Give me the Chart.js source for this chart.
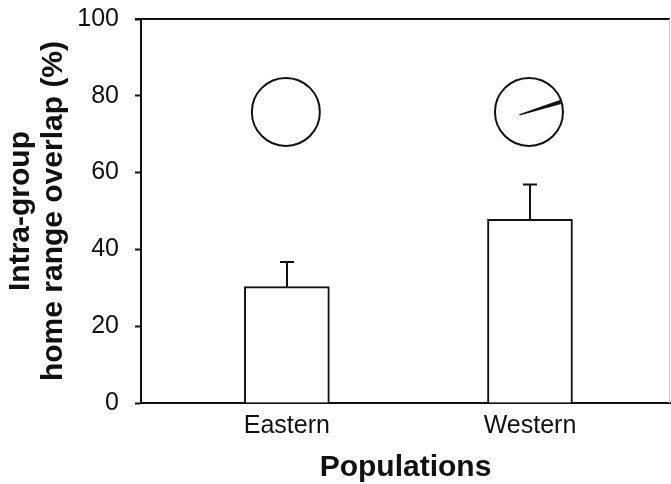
<!DOCTYPE html>
<html lang="en">
<head>
    <meta charset="UTF-8">
    <title>Home range overlap</title>
    <script src="https://cdn.jsdelivr.net/npm/chart.js@4.4.1/dist/chart.umd.min.js"></script>
    <style>
        html, body { margin: 0; padding: 0; background: #fff; }
        #wrap { width: 671px; height: 484px; }
    </style>
</head>
<body>
    <div id="wrap"><canvas id="myChart"></canvas></div>
    <script>
        // data
        var populations = ['Eastern', 'Western'];
        var overlap = [30.3, 47.8];       // mean intra-group overlap (%)
        var overlapErr = [6.4, 9.1];      // upper error bar
        var circleLevel = [75.8, 75.8];   // where the circular plots sit on the y scale
        var meanAngle = [null, 72.5];     // mean direction (deg from north), none for Eastern
        var yTicks = [0, 20, 40, 60, 80, 100];

        var ink = '#111';
        var font = "'Liberation Sans', Arial, sans-serif";

        var barData = populations.map(function(p, i) {
            return { x: i + 1, y: overlap[i] };
        });

        // frame, error bars and the little circular plots
        var extras = {
            id: 'extras',
            afterDatasetsDraw: function(chart) {
                var ctx = chart.ctx;
                var xs = chart.scales.x, ys = chart.scales.y;
                var area = chart.chartArea;
                ctx.save();

                // top and right of the frame
                ctx.strokeStyle = ink;
                ctx.lineWidth = 2;
                ctx.beginPath();
                ctx.moveTo(area.left - 6, area.top);
                ctx.lineTo(area.right, area.top);
                ctx.stroke();
                ctx.strokeStyle = '#ccc';
                ctx.lineWidth = 1;
                ctx.beginPath();
                ctx.moveTo(area.right - 0.5, area.top);
                ctx.lineTo(area.right - 0.5, area.bottom);
                ctx.stroke();

                // error bars
                ctx.strokeStyle = ink;
                ctx.lineWidth = 2;
                overlap.forEach(function(v, i) {
                    var x = Math.round(xs.getPixelForValue(i + 1));
                    var y0 = ys.getPixelForValue(v);
                    var y1 = ys.getPixelForValue(v + overlapErr[i]);
                    ctx.beginPath();
                    ctx.moveTo(x, y0);
                    ctx.lineTo(x, y1);
                    ctx.moveTo(x - 7, y1);
                    ctx.lineTo(x + 7, y1);
                    ctx.stroke();
                });

                // circles with mean vector
                var r = 34;
                populations.forEach(function(p, i) {
                    var cx = xs.getPixelForValue(i + 1) - 1;
                    var cy = ys.getPixelForValue(circleLevel[i]);
                    ctx.strokeStyle = ink;
                    ctx.lineWidth = 2;
                    ctx.beginPath();
                    ctx.arc(cx, cy, r, 0, Math.PI * 2);
                    ctx.stroke();

                    var a = meanAngle[i];
                    if (a === null) return;
                    var rad = (a - 90) * Math.PI / 180;
                    var sx = cx - 10 * Math.cos(rad), sy = cy - 10 * Math.sin(rad);
                    var tx = cx + (r - 1) * Math.cos(rad), ty = cy + (r - 1) * Math.sin(rad);
                    var nx = -Math.sin(rad), ny = Math.cos(rad);
                    ctx.fillStyle = ink;
                    ctx.beginPath();
                    ctx.moveTo(sx + nx * 0.6, sy + ny * 0.6);
                    ctx.lineTo(tx + nx * 2, ty + ny * 2);
                    ctx.lineTo(tx - nx * 2, ty - ny * 2);
                    ctx.lineTo(sx - nx * 0.6, sy - ny * 0.6);
                    ctx.closePath();
                    ctx.fill();
                });
                ctx.restore();
            }
        };

        var ctx = document.getElementById('myChart').getContext('2d');
        var chart = new Chart(ctx, {
            type: 'bar',
            data: {
                datasets: [{
                    label: 'Overlap',
                    data: barData,
                    backgroundColor: '#fff',
                    borderColor: ink,
                    borderWidth: 2,
                    barThickness: 85
                }]
            },
            options: {
                responsive: true,
                maintainAspectRatio: false,
                animation: false,
                events: [],
                layout: { padding: { top: 19, right: 1, left: 0, bottom: 0 } },
                plugins: {
                    legend: { display: false },
                    tooltip: { enabled: false }
                },
                scales: {
                    x: {
                        type: 'linear',
                        min: 0.4,
                        max: 2.576,
                        offset: false,
                        afterBuildTicks: function(scale) {
                            scale.ticks = populations.map(function(p, i) { return { value: i + 1 }; });
                        },
                        afterFit: function(scale) {
                            scale.height = 81;
                            scale.paddingLeft = 0;
                            scale.paddingRight = 0;
                        },
                        ticks: {
                            color: ink,
                            font: { family: font, size: 25 },
                            padding: 8,
                            callback: function(v) { return populations[v - 1]; }
                        },
                        grid: { display: false, drawTicks: false, offset: false },
                        border: { color: ink, width: 2 },
                        title: {
                            display: true,
                            text: 'Populations',
                            color: ink,
                            font: { family: font, size: 30, weight: 'bold', lineHeight: 1.1 },
                            padding: { top: 6, bottom: 0 }
                        }
                    },
                    y: {
                        min: 0,
                        max: 100,
                        afterBuildTicks: function(scale) {
                            scale.ticks = yTicks.map(function(v) { return { value: v }; });
                        },
                        afterFit: function(scale) {
                            scale.width = 141;
                            scale.paddingTop = 0;
                            scale.paddingBottom = 0;
                        },
                        ticks: {
                            color: ink,
                            font: { family: font, size: 25 },
                            padding: 16
                        },
                        grid: {
                            drawOnChartArea: false,
                            tickLength: 6,
                            tickColor: ink,
                            tickWidth: 2
                        },
                        border: { color: ink, width: 2 },
                        title: {
                            display: true,
                            text: ['Intra-group', 'home range overlap (%)'],
                            color: ink,
                            font: { family: font, size: 30, weight: 'bold', lineHeight: 1.1 },
                            padding: { top: 4, bottom: 0 }
                        }
                    }
                }
            },
            plugins: [extras]
        });
    </script>
</body>
</html>
